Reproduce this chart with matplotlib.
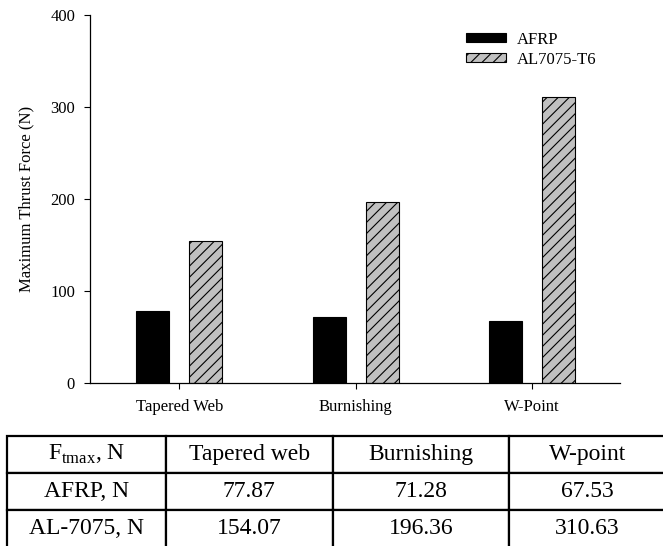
import matplotlib
matplotlib.use("Agg")
import matplotlib.pyplot as plt
import numpy as np

methods = ["Tapered Web", "Burnishing", "W-Point"]
table_methods = ["Tapered web", "Burnishing", "W-point"]
afrp = [77.87, 71.28, 67.53]
al7075 = [154.07, 196.36, 310.63]
series_names = ["AFRP", "AL7075-T6"]
row_names = ["F$_\\mathregular{tmax}$, N", "AFRP, N", "AL-7075, N"]
yticks = [0, 100, 200, 300, 400]

plt.rcParams["font.family"] = ["Liberation Serif", "DejaVu Serif"]
plt.rcParams["hatch.linewidth"] = 0.8

W, H = 663, 546
fig = plt.figure(figsize=(W / 100, H / 100), dpi=100)

# chart axes, placed in pixels
ax = fig.add_axes([90.3 / W, 1 - 382.7 / H, (620 - 90.3) / W, (382.7 - 14.7) / H])

x = np.arange(len(methods))
bw = 0.187
off = 0.15
ax.bar(x - off, afrp, bw, color="black", edgecolor="black", linewidth=0.8,
       label=series_names[0])
ax.bar(x + off, al7075, bw, color="#c0c0c0", edgecolor="black", linewidth=0.8,
       hatch="///", label=series_names[1])

ax.set_xlim(-0.505, 2.5)
ax.set_ylim(0, 400)
ax.set_yticks(yticks)
ax.set_xticks(x)
ax.set_xticklabels(methods)
ax.tick_params(axis="x", direction="out", length=4, width=0.8, pad=8, labelsize=12)
ax.tick_params(axis="y", direction="out", length=4, width=0.8, pad=7, labelsize=12)
ax.set_ylabel("Maximum Thrust Force (N)", fontsize=12, labelpad=11)

for s in ["top", "right"]:
    ax.spines[s].set_visible(False)
for s in ["left", "bottom"]:
    ax.spines[s].set_linewidth(0.9)

ax.legend(loc="upper left", bbox_to_anchor=(465.7 / W, 1 - 31.5 / H),
          bbox_transform=fig.transFigure, frameon=False, fontsize=12,
          handlelength=2.4, handleheight=0.48, handletextpad=0.66,
          labelspacing=0.25, borderpad=0, borderaxespad=0)

# table below the chart
tab_ax = fig.add_axes([6.7 / W, -1.5 / H, (666 - 6.7) / W, (547.5 - 435.7) / H])
tab_ax.axis("off")
cells = [[row_names[0]] + table_methods,
         [row_names[1]] + [f"{v:.2f}" for v in afrp],
         [row_names[2]] + [f"{v:.2f}" for v in al7075]]
col_w = np.array([159.0, 166.6, 175.7, 157.0])
tbl = tab_ax.table(cellText=cells, colWidths=list(col_w / col_w.sum()),
                   cellLoc="center", bbox=[0, 0, 1, 1])
tbl.auto_set_font_size(False)
for (r, c), cell in tbl.get_celld().items():
    cell.set_linewidth(1.6)
    cell.set_edgecolor("black")
    cell.get_text().set_fontsize(17)

fig.savefig("out.png", dpi=100)
